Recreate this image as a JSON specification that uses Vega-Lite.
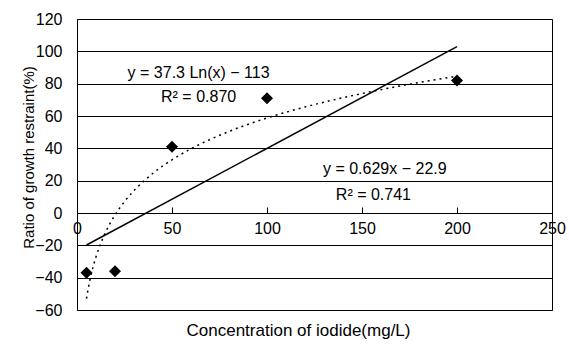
{
  "$schema": "https://vega.github.io/schema/vega-lite/v6.json",
  "width": 475,
  "height": 291,
  "autosize": "none",
  "padding": {"left": 77, "top": 19, "right": 17, "bottom": 34},
  "background": "white",
  "config": {
    "view": {"stroke": "black", "strokeWidth": 1},
    "font": "Liberation Sans",
    "axis": {"labelFont": "Liberation Sans", "titleFont": "Liberation Sans", "labelFontSize": 16, "titleFontSize": 14, "titleFontWeight": "normal", "labelColor": "black", "titleColor": "black", "gridColor": "black", "gridOpacity": 1, "domainColor": "black", "tickColor": "black"}
  },
  "datasets": {
    "points": [
      {"x": 5, "y": -37},
      {"x": 20, "y": -36},
      {"x": 50, "y": 41},
      {"x": 100, "y": 71},
      {"x": 200, "y": 82}
    ],
    "linear": [
      {"x": 5, "y": -19.8},
      {"x": 200, "y": 102.9}
    ],
    "logfit": [
      {"x": 5, "y": -52.97},
      {"x": 6, "y": -46.17},
      {"x": 7, "y": -40.42},
      {"x": 8, "y": -35.44},
      {"x": 10, "y": -27.11},
      {"x": 12, "y": -20.31},
      {"x": 15, "y": -11.99},
      {"x": 20, "y": -1.26},
      {"x": 25, "y": 7.06},
      {"x": 30, "y": 13.87},
      {"x": 40, "y": 24.6},
      {"x": 50, "y": 32.92},
      {"x": 60, "y": 39.72},
      {"x": 70, "y": 45.47},
      {"x": 80, "y": 50.45},
      {"x": 100, "y": 58.77},
      {"x": 120, "y": 65.57},
      {"x": 140, "y": 71.32},
      {"x": 160, "y": 76.3},
      {"x": 180, "y": 80.7},
      {"x": 200, "y": 84.63}
    ],
    "labels": [
      {"x": 64, "y": 86.6, "label": "y = 37.3 Ln(x) − 113"},
      {"x": 64, "y": 71.7, "label": "R² = 0.870"},
      {"x": 162, "y": 27.2, "label": "y = 0.629x − 22.9"},
      {"x": 156, "y": 11.1, "label": "R² = 0.741"}
    ]
  },
  "encoding": {
    "x": {
      "field": "x", "type": "quantitative",
      "scale": {"domain": [0, 250], "nice": false, "zero": false},
      "axis": {"values": [0, 50, 100, 150, 200, 250], "grid": false, "offset": -97, "tickSize": -6, "labelPadding": 13, "domain": true, "labelFlush": false, "title": "Concentration of iodide(mg/L)", "titleFontSize": 17, "titleX": 221, "titleY": 117, "titleBaseline": "middle", "titleAnchor": null, "titleAlign": "center"}
    },
    "y": {
      "field": "y", "type": "quantitative",
      "scale": {"domain": [-60, 120], "nice": false, "zero": false},
      "axis": {"values": [-60, -40, -20, 0, 20, 40, 60, 80, 100, 120], "grid": true, "ticks": false, "domain": false, "labelPadding": 15, "title": "Ratio of growth restraint(%)", "titleFontSize": 15, "titleX": -49, "titleY": 138, "titleAngle": -90, "titleBaseline": "middle", "titleAlign": "center"}
    }
  },
  "layer": [
    {
      "data": {"name": "logfit"},
      "mark": {"type": "line", "color": "black", "strokeWidth": 1.5, "strokeDash": [2, 4], "interpolate": "monotone"}
    },
    {
      "data": {"name": "linear"},
      "mark": {"type": "line", "color": "black", "strokeWidth": 1.5}
    },
    {
      "data": {"name": "points"},
      "mark": {"type": "point", "shape": "diamond", "filled": true, "color": "black", "opacity": 1, "size": 144}
    },
    {
      "data": {"name": "labels"},
      "mark": {"type": "text", "fontSize": 16, "color": "black", "align": "center", "baseline": "middle", "font": "Liberation Sans"},
      "encoding": {"text": {"field": "label"}}
    }
  ]
}
